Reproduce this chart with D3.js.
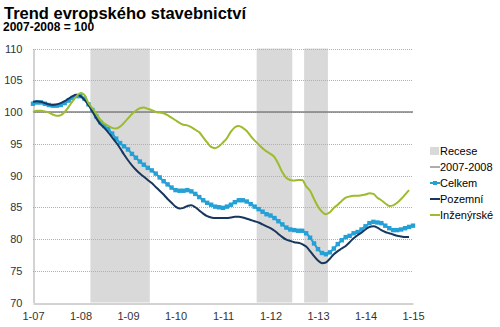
<!DOCTYPE html>
<html>
<head>
<meta charset="utf-8">
<script src="https://cdn.jsdelivr.net/npm/d3@7"></script>
<style>
  body { margin: 0; background: #fff; }
  svg { display: block; font-family: "Liberation Sans", Arial, sans-serif; }
</style>
</head>
<body>
<div id="chart"></div>
<script>
// monthly index: 0 = 1-07 ... 96 = 1-15
var tickLabels = ["1-07", "1-08", "1-09", "1-10", "1-11", "1-12", "1-13", "1-14", "1-15"];
var yTicks = [70, 75, 80, 85, 90, 95, 100, 105, 110];

// recession periods as [first month, last month] (month index)
var recessions = [[15, 29], [57, 65], [69, 74]];

var celkem = [101.3, 101.5, 101.5, 101.3, 101.1, 101.0, 101.0, 101.1, 101.4, 101.8, 102.2, 102.5,
  102.5, 102.1, 101.2, 100.3, 99.3, 98.4, 97.8, 97.3, 96.6, 95.8, 95.1, 94.6,
  94.1, 93.4, 92.8, 92.2, 91.7, 91.2, 90.8, 90.3, 89.7, 89.1, 88.6, 88.1,
  87.7, 87.6, 87.6, 87.7, 87.5, 87.1, 86.6, 86.1, 85.7, 85.4, 85.1, 85.0,
  84.9, 85.1, 85.4, 85.8, 86.1, 86.1, 85.9, 85.5, 85.1, 84.7, 84.3, 83.9,
  83.7, 83.3, 82.8, 82.3, 81.8, 81.5, 81.4, 81.3, 81.3, 80.9, 80.2, 79.3,
  78.4, 77.8, 77.6, 77.9, 78.5, 79.2, 79.8, 80.3, 80.5, 80.9, 81.1, 81.5,
  82.0, 82.5, 82.7, 82.6, 82.5, 82.1, 81.7, 81.4, 81.4, 81.5, 81.7, 81.9,
  82.1];

var pozemni = [101.6, 101.7, 101.6, 101.4, 101.2, 101.1, 101.2, 101.4, 101.7, 102.1, 102.5, 102.7,
  102.5, 101.9, 101.1, 100.1, 99.0, 98.1, 97.5, 96.8, 96.0, 95.2, 94.3, 93.3,
  92.4, 91.6, 90.9, 90.3, 89.8, 89.3, 88.8, 88.2, 87.6, 87.0, 86.3, 85.7,
  85.1, 84.8, 84.9, 85.2, 85.3, 85.0, 84.5, 84.0, 83.6, 83.4, 83.3, 83.3,
  83.3, 83.3, 83.4, 83.5, 83.5, 83.4, 83.2, 83.0, 82.8, 82.6, 82.3, 82.0,
  81.7, 81.3, 80.8, 80.3, 79.9, 79.7, 79.5, 79.4, 79.2, 78.8, 78.1, 77.3,
  76.6, 76.2, 76.3, 76.9, 77.6, 78.1, 78.5, 78.9, 79.5, 80.1, 80.6, 81.0,
  81.5, 81.9, 82.0, 81.8, 81.4, 81.1, 80.9, 80.7, 80.5, 80.4, 80.3, 80.3];

var inzenyrske = [100.0, 100.2, 100.2, 100.1, 99.9, 99.6, 99.4, 99.5, 100.0, 100.8, 101.7, 102.5,
  103.0, 102.7, 101.4, 100.6, 99.7, 98.8, 98.2, 97.8, 97.5, 97.4, 97.7, 98.3,
  99.0, 99.7, 100.2, 100.6, 100.7, 100.5, 100.3, 100.0, 99.9, 99.8, 99.5, 99.1,
  98.7, 98.3, 98.0, 97.9, 97.6, 97.2, 96.8, 96.0, 95.2, 94.5, 94.3, 94.6,
  95.2, 95.9, 96.9, 97.6, 97.8, 97.5, 97.0, 96.2, 95.5, 94.9, 94.3, 93.8,
  93.4, 92.9, 91.8, 90.5, 89.6, 89.3, 89.2, 89.3, 89.3, 88.3, 87.6, 86.3,
  85.1, 84.3, 83.9, 84.2, 84.9, 85.4, 86.0, 86.5, 86.7, 86.8, 86.8, 86.9,
  87.0, 87.2, 87.1, 86.5, 86.1, 85.6, 85.2, 85.3, 85.7, 86.3, 87.0, 87.7];

var baseValue = 100;

var svgWidth = 500;
var svgHeight = 327;

var svg = d3.select("#chart")
            .append("svg")
            .attr("width", svgWidth)
            .attr("height", svgHeight);

var xScale = d3.scaleLinear().domain([0, 96]).range([33, 413]);
var yScale = d3.scaleLinear().domain([70, 110]).range([302.5, 48.5]);

// title
svg.append("text")
   .attr("x", 4).attr("y", 18.5)
   .style("font-size", "16.5px").style("font-weight", "bold").attr("fill", "#000")
   .text("Trend evropského stavebnictví");
svg.append("text")
   .attr("x", 3).attr("y", 31)
   .style("font-size", "12px").style("font-weight", "bold").attr("fill", "#000")
   .text("2007-2008 = 100");

// recession bands
svg.selectAll(".rec")
   .data(recessions)
   .enter()
   .append("rect")
   .attr("x", d => xScale(d[0] - 0.5))
   .attr("width", d => xScale(d[1] + 0.5) - xScale(d[0] - 0.5))
   .attr("y", yScale(110))
   .attr("height", yScale(70) - yScale(110))
   .attr("fill", "#d9d9d9");

// gridlines
svg.selectAll(".grid")
   .data(yTicks.filter(v => v > 70))
   .enter()
   .append("line")
   .attr("x1", xScale(0)).attr("x2", xScale(96))
   .attr("y1", d => Math.round(yScale(d)) + 0.5)
   .attr("y2", d => Math.round(yScale(d)) + 0.5)
   .attr("stroke", "#b0b0b0")
   .attr("stroke-dasharray", "1,1");

// y axis
var yAxis = d3.axisLeft(yScale).tickValues(yTicks).tickSize(0).tickPadding(11);
var gy = svg.append("g").attr("transform", "translate(" + (Math.round(xScale(0)) + 0.5) + ",0)").call(yAxis);
gy.select(".domain").attr("stroke", "#a6a6a6");
gy.selectAll("text").style("font-size", "11px").attr("fill", "#333").style("font-family", "Liberation Sans, Arial, sans-serif");

// x axis
var xAxis = d3.axisBottom(xScale)
              .tickValues(d3.range(0, 97, 12))
              .tickFormat((d, i) => tickLabels[i])
              .tickSize(0).tickPadding(9);
var gx = svg.append("g").attr("transform", "translate(0," + (Math.round(yScale(70)) + 0.5) + ")").call(xAxis);
gx.select(".domain").attr("stroke", "#a6a6a6");
gx.selectAll("text").style("font-size", "11px").attr("fill", "#333").style("font-family", "Liberation Sans, Arial, sans-serif");

// base line 2007-2008 = 100
svg.append("line")
   .attr("x1", xScale(0)).attr("x2", xScale(96))
   .attr("y1", yScale(baseValue)).attr("y2", yScale(baseValue))
   .attr("stroke", "#808080").attr("stroke-width", 1.3);

var line = d3.line()
             .x((d, i) => xScale(i))
             .y(d => yScale(d))
             .curve(d3.curveMonotoneX);

var blue = "#24a0d6", navy = "#17375e", green = "#9dbb2e";

svg.append("path").datum(celkem)
   .attr("d", line).attr("fill", "none")
   .attr("stroke", blue).attr("stroke-width", 2);
svg.selectAll(".mk")
   .data(celkem)
   .enter()
   .append("rect")
   .attr("x", (d, i) => xScale(i) - 2.2)
   .attr("y", d => yScale(d) - 2.2)
   .attr("width", 4.4).attr("height", 4.4)
   .attr("fill", blue);

svg.append("path").datum(pozemni)
   .attr("d", line).attr("fill", "none")
   .attr("stroke", navy).attr("stroke-width", 2);

svg.append("path").datum(inzenyrske)
   .attr("d", line).attr("fill", "none")
   .attr("stroke", green).attr("stroke-width", 2);

// legend
var legendItems = ["Recese", "2007-2008", "Celkem", "Pozemní", "Inženýrské"];
var legendColors = ["#d9d9d9", "#808080", blue, navy, green];
var lg = svg.selectAll(".lg")
            .data(legendItems)
            .enter()
            .append("g")
            .attr("transform", (d, i) => "translate(430," + (151 + i * 16) + ")");
lg.each(function(d, i) {
  var g = d3.select(this);
  if (i == 0) {
    g.append("rect").attr("x", 0).attr("y", -4).attr("width", 9).attr("height", 8).attr("fill", legendColors[i]);
  } else {
    g.append("line").attr("x1", 0).attr("x2", 10).attr("y1", 0).attr("y2", 0)
     .attr("stroke", legendColors[i]).attr("stroke-width", i == 1 ? 1.3 : 2);
    if (i == 2) {
      g.append("rect").attr("x", 3).attr("y", -2).attr("width", 4).attr("height", 4).attr("fill", legendColors[i]);
    }
  }
  g.append("text").attr("x", 10).attr("y", 4)
   .style("font-size", "11px").attr("fill", "#000")
   .text(d);
});
</script>
</body>
</html>
